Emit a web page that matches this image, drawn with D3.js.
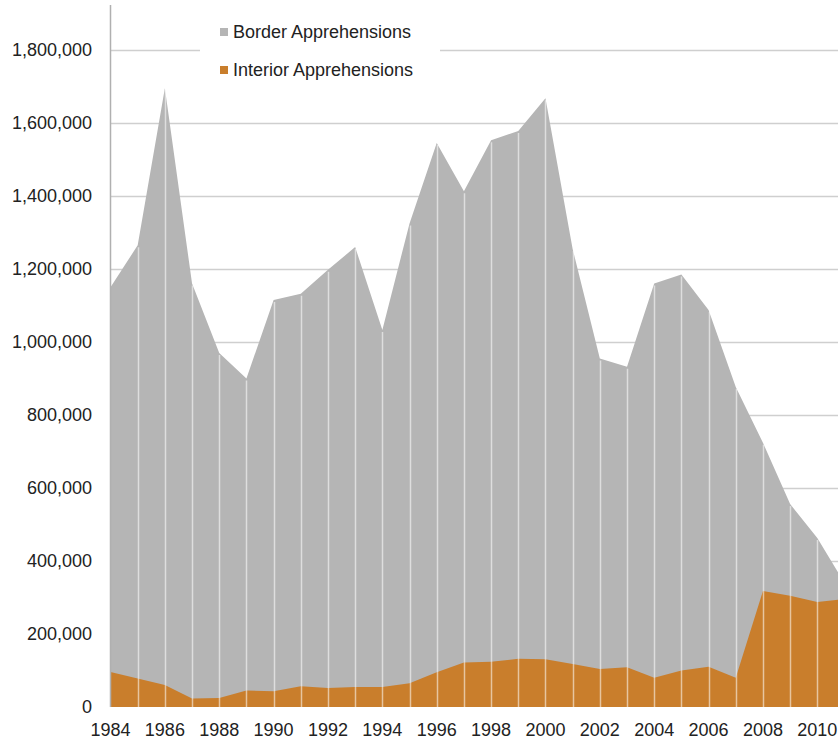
<!DOCTYPE html>
<html>
<head>
<meta charset="utf-8">
<script src="https://cdn.jsdelivr.net/npm/d3@7"></script>
<style>
  html, body { margin: 0; padding: 0; background: #fff; }
  svg { display: block; overflow: hidden; }
  text { font-family: "Liberation Sans", Arial, Helvetica, sans-serif; fill: #222; }
</style>
</head>
<body>
<svg id="chart" width="838" height="742"></svg>
<script>
const years = d3.range(1984, 2012);
const borderApprehensions = [
  1150000, 1265000, 1695000, 1160000, 970000, 900000, 1115000, 1132000,
  1198000, 1260000, 1033000, 1325000, 1545000, 1413000, 1553000, 1578000,
  1668000, 1255000, 955000, 932000, 1160000, 1185000, 1088000, 877000,
  724000, 556000, 463000, 340000
];
const interiorApprehensions = [
  96000, 78000, 60000, 23000, 25000, 45000, 43000, 57000,
  52000, 55000, 55000, 65000, 95000, 122000, 124000, 132000,
  131000, 118000, 104000, 109000, 80000, 100000, 110000, 80000,
  318000, 305000, 288000, 296000
];
const yTicks = [0, 200000, 400000, 600000, 800000, 1000000, 1200000, 1400000, 1600000, 1800000];
const xTickYears = [1984, 1986, 1988, 1990, 1992, 1994, 1996, 1998, 2000, 2002, 2004, 2006, 2008, 2010];
const seriesNames = ["Border Apprehensions", "Interior Apprehensions"];
const seriesColors = ["#b5b5b5", "#c97e2c"];

const svg = d3.select("#chart");
const x = d3.scaleLinear().domain([1984, 2011]).range([110.5, 844.5]);
const y = d3.scaleLinear().domain([0, 1800000]).range([707, 50]);

// gridlines
svg.append("g").selectAll("line").data(yTicks.filter(d => d > 0)).join("line")
  .attr("x1", 111).attr("x2", 838)
  .attr("y1", d => Math.round(y(d)) + 0.5).attr("y2", d => Math.round(y(d)) + 0.5)
  .attr("stroke", "#cfcfcf").attr("stroke-width", 1.5);

const data = years.map((yr, i) => ({ yr, b: borderApprehensions[i], n: interiorApprehensions[i] }));

const areaB = d3.area().x(d => x(d.yr)).y0(y(0)).y1(d => y(d.b));
const areaN = d3.area().x(d => x(d.yr)).y0(y(0)).y1(d => y(d.n));

svg.append("path").datum(data).attr("d", areaB).attr("fill", seriesColors[0]);
svg.append("path").datum(data).attr("d", areaN).attr("fill", seriesColors[1]);

// year lines inside the area
svg.append("g").selectAll("line").data(data.filter(d => d.yr > 1984)).join("line")
  .attr("x1", d => Math.round(x(d.yr)) + 0.5).attr("x2", d => Math.round(x(d.yr)) + 0.5)
  .attr("y1", y(0)).attr("y2", d => y(d.b) + 2)
  .attr("stroke", "#ffffff").attr("stroke-opacity", 0.55).attr("stroke-width", 1.5);

// y axis line
svg.append("line").attr("x1", 110.5).attr("x2", 110.5).attr("y1", 5).attr("y2", 707)
  .attr("stroke", "#b0b0b0").attr("stroke-width", 1.5);

// y tick labels
const fmt = d3.format(",");
svg.append("g").selectAll("text").data(yTicks).join("text")
  .attr("x", 92).attr("y", d => y(d)).attr("dy", "0.36em")
  .attr("text-anchor", "end").attr("font-size", 18)
  .text(d => fmt(d));

// x tick labels
svg.append("g").selectAll("text").data(xTickYears).join("text")
  .attr("x", d => x(d)).attr("y", 736)
  .attr("text-anchor", "middle").attr("font-size", 18)
  .text(d => String(d));

// legend
const lg = svg.append("g");
lg.append("rect").attr("x", 200).attr("y", 14).attr("width", 240).attr("height", 74).attr("fill", "#fff");
seriesNames.forEach((name, i) => {
  const cy = 32 + i * 38;
  lg.append("rect").attr("x", 220).attr("y", cy - 4).attr("width", 8).attr("height", 8).attr("fill", seriesColors[i]);
  lg.append("text").attr("x", 233).attr("y", cy).attr("dy", "0.36em").attr("font-size", 18).text(name);
});
</script>
</body>
</html>
